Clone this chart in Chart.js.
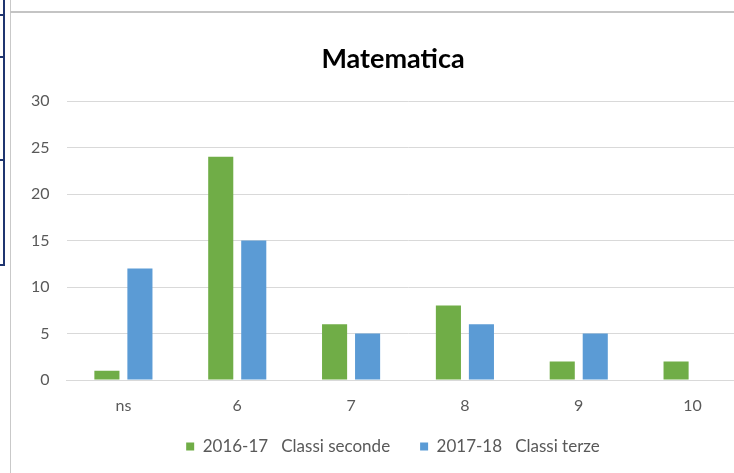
<!DOCTYPE html>
<html>
<head>
<meta charset="utf-8">
<script src="https://cdn.jsdelivr.net/npm/chart.js@4"></script>
<style>
  html, body { margin: 0; padding: 0; background: #ffffff; overflow: hidden; width: 734px; height: 473px; }
  #wrap { position: absolute; left: 12px; top: 14px; width: 762px; height: 459px; }
  .deco { position: absolute; }
</style>
</head>
<body>
<div class="deco" style="left:10px;top:0;width:1px;height:473px;background:#c9c9c9"></div>
<div class="deco" style="left:10px;top:11px;width:724px;height:2px;background:#c4c4c4"></div>
<div class="deco" style="left:3px;top:0;width:2px;height:266px;background:#1f3570"></div>
<div class="deco" style="left:0;top:14px;width:5px;height:2px;background:#1f3570"></div>
<div class="deco" style="left:0;top:56px;width:5px;height:2px;background:#1f3570"></div>
<div class="deco" style="left:0;top:159px;width:5px;height:2px;background:#1f3570"></div>
<div class="deco" style="left:0;top:264px;width:5px;height:2px;background:#1f3570"></div>
<div id="wrap"><canvas id="c" width="762" height="459"></canvas></div>
<script>
const categories = ["ns", "6", "7", "8", "9", "10"];
const series2016 = [1, 24, 6, 8, 2, 2];
const series2017 = [12, 15, 5, 6, 5, 0];
const seriesNames = ["2016-17   Classi seconde", "2017-18   Classi terze"];
const chartTitle = "Matematica";
const yTicks = [0, 5, 10, 15, 20, 25, 30];

const FONT = "Lato, 'Open Sans', 'DejaVu Sans', sans-serif";

const layoutTweaks = {
  id: 'layoutTweaks',
  beforeInit(chart) {
    const lg = chart.legend;
    if (!lg) return;
    const orig = lg.fit;
    lg.fit = function () { orig.call(this); this.height = 65; };
  },
  afterLayout(chart) {
    Object.values(chart.scales).forEach(s => { s._computeLabelArea = () => undefined; });
  }
};

new Chart(document.getElementById('c'), {
  type: 'bar',
  data: {
    labels: categories,
    datasets: [
      { label: seriesNames[0], data: series2016, backgroundColor: '#70AD47', categoryPercentage: 0.58, barPercentage: 0.76 },
      { label: seriesNames[1], data: series2017, backgroundColor: '#5B9BD5', categoryPercentage: 0.58, barPercentage: 0.76 }
    ]
  },
  plugins: [layoutTweaks],
  options: {
    responsive: false,
    animation: false,
    layout: { padding: { left: 24.5, right: 24.5, top: 0, bottom: 0 } },
    plugins: {
      title: {
        display: true,
        text: chartTitle,
        color: '#000000',
        font: { family: FONT, size: 27, weight: 'bold', lineHeight: 1.2 },
        padding: { top: 29, bottom: 25.6 }
      },
      legend: {
        display: true,
        position: 'bottom',
        labels: {
          color: '#595959',
          font: { family: FONT, size: 17 },
          boxWidth: 8,
          boxHeight: 8,
          padding: 30
        }
      },
      tooltip: { enabled: false }
    },
    scales: {
      x: {
        afterFit: (s) => { s.height = 28; },
        grid: { display: false, drawTicks: false },
        border: { display: true, color: '#d9d9d9', width: 1 },
        ticks: { color: '#595959', font: { family: FONT, size: 16 }, padding: 16 }
      },
      y: {
        min: 0, max: 30,
        afterFit: (s) => { s.width = 30; },
        afterBuildTicks: (s) => { s.ticks = yTicks.map(v => ({ value: v })); },
        grid: { color: '#d9d9d9', drawTicks: false },
        border: { display: false },
        ticks: { color: '#595959', font: { family: FONT, size: 16 }, padding: 17 }
      }
    }
  }
});
</script>
</body>
</html>
